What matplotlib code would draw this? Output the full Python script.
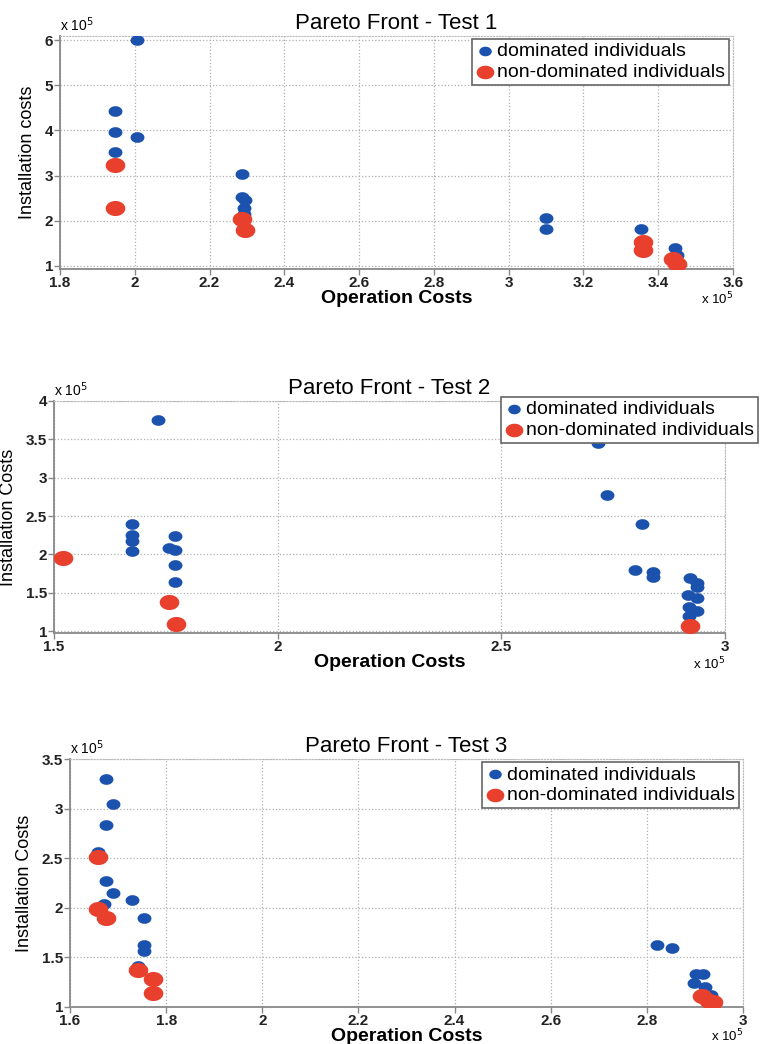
import numpy as np
import matplotlib.pyplot as plt
from matplotlib.path import Path

plt.rcParams['font.family'] = ['Liberation Sans', 'DejaVu Sans']

# values in units of 1e5
t1_dom_x = [2.005, 1.947, 1.947, 1.947, 2.006, 2.288, 2.288, 2.295, 2.293, 2.293,
            3.10, 3.10, 3.355, 3.444, 3.45]
t1_dom_y = [6.00, 4.44, 3.96, 3.52, 3.85, 3.03, 2.52, 2.45, 2.28, 2.15,
            2.07, 1.82, 1.81, 1.39, 1.24]
t1_nd_x = [1.947, 1.947, 2.288, 2.295, 3.358, 3.358, 3.44, 3.449]
t1_nd_y = [3.23, 2.28, 2.04, 1.79, 1.53, 1.35, 1.15, 1.05]

t2_dom_x = [1.732, 1.675, 1.675, 1.675, 1.675, 1.77, 1.757, 1.77, 1.77, 1.77,
            2.717, 2.737, 2.815, 2.799, 2.84, 2.84, 2.922, 2.937, 2.937, 2.918,
            2.937, 2.92, 2.937, 2.92]
t2_dom_y = [3.75, 2.40, 2.25, 2.175, 2.05, 2.235, 2.08, 2.06, 1.865, 1.64,
            3.456, 2.78, 2.39, 1.80, 1.77, 1.71, 1.69, 1.63, 1.57, 1.47,
            1.43, 1.31, 1.255, 1.20]
t2_nd_x = [1.521, 1.756, 1.773, 2.922]
t2_nd_y = [1.95, 1.38, 1.09, 1.07]

t3_dom_x = [1.675, 1.689, 1.675, 1.658, 1.675, 1.689, 1.730, 1.671, 1.754, 1.754,
            1.754, 1.741, 2.822, 2.853, 2.903, 2.917, 2.899, 2.92, 2.934]
t3_dom_y = [3.30, 3.05, 2.83, 2.56, 2.27, 2.145, 2.08, 2.04, 1.90, 1.63,
            1.56, 1.41, 1.63, 1.59, 1.33, 1.33, 1.24, 1.20, 1.12]
t3_nd_x = [1.658, 1.658, 1.675, 1.742, 1.772, 1.772, 2.915, 2.93, 2.937]
t3_nd_y = [2.51, 1.99, 1.90, 1.37, 1.28, 1.14, 1.11, 1.06, 1.05]

titles = ['Pareto Front - Test 1', 'Pareto Front - Test 2', 'Pareto Front - Test 3']
ylabels = ['Installation costs', 'Installation Costs', 'Installation Costs']
xlims = [(1.8, 3.6), (1.5, 3.0), (1.6, 3.0)]
ylims = [(0.93, 6.09), (0.974, 4.0), (1.0, 3.5)]
xticks = [np.arange(1.8, 3.61, 0.2), [1.5, 2, 2.5, 3], np.arange(1.6, 3.01, 0.2)]
yticks = [[1, 2, 3, 4, 5, 6], np.arange(1, 4.01, 0.5), np.arange(1, 3.51, 0.5)]

blue = '#1a52ad'
red = '#e8402c'

# slightly wide ellipse marker
th = np.linspace(0, 2 * np.pi, 40)
ell = Path(np.column_stack([1.3 * np.cos(th), np.sin(th)]), closed=True)

fig = plt.figure(figsize=(7.62, 10.44), dpi=100)
boxes = [[60, 733, 36, 269], [54, 725, 401, 633], [70, 743, 759, 1007]]
legpos = [(729, 39), (758, 397), (739, 762)]
xmult_gap = [22, 23, 21]
data = [(t1_dom_x, t1_dom_y, t1_nd_x, t1_nd_y),
        (t2_dom_x, t2_dom_y, t2_nd_x, t2_nd_y),
        (t3_dom_x, t3_dom_y, t3_nd_x, t3_nd_y)]

W, H = 762.0, 1044.0
for i in range(3):
    l, r, t, b = boxes[i]
    ax = fig.add_axes([l / W, 1 - b / H, (r - l) / W, (b - t) / H])
    dx, dy, nx, ny = data[i]
    ax.scatter(dx, dy, s=100, marker=ell, color=blue, lw=0, label='dominated individuals', zorder=3)
    ax.scatter(nx, ny, s=200, marker=ell, color=red, lw=0, label='non-dominated individuals', zorder=4)
    ax.set_xlim(xlims[i])
    ax.set_ylim(ylims[i])
    ax.set_xticks(xticks[i])
    ax.set_yticks(yticks[i])
    ax.set_xticklabels(['%g' % v for v in xticks[i]])
    ax.set_yticklabels(['%g' % v for v in yticks[i]])
    ax.tick_params(labelsize=11, colors='#222222', length=4, width=1, direction='out', pad=1)
    for lab in ax.get_xticklabels() + ax.get_yticklabels():
        lab.set_fontweight('bold')
    ax.tick_params(color='#888888')
    ax.grid(True, linestyle=':', color='#b0b0b0', linewidth=0.9)
    ax.set_axisbelow(True)
    for s in ['left', 'bottom']:
        ax.spines[s].set_color('#888888')
        ax.spines[s].set_linewidth(1.3)
    for s in ['top', 'right']:
        ax.spines[s].set_color('#bbbbbb')
        ax.spines[s].set_linestyle(':')
    ax.set_title(titles[i], fontsize=16, pad=5)
    ax.set_xlabel('Operation Costs', fontsize=14, fontweight='bold', labelpad=0)
    ax.set_ylabel(ylabels[i], fontsize=13, labelpad=6)
    ax.text(0.0, 1.01, r'x 10$^5$', transform=ax.transAxes, fontsize=10, va='bottom', ha='left')
    ax.text(1.0, -xmult_gap[i] / (b - t), r'x 10$^5$', transform=ax.transAxes, fontsize=9.5,
            va='top', ha='right')
    lx, ly = legpos[i]
    leg = ax.legend(loc='upper right', bbox_to_anchor=(lx / W, 1 - ly / H),
                    bbox_transform=fig.transFigure, fontsize=14, frameon=True, fancybox=False,
                    borderpad=0.2, labelspacing=0.15, handletextpad=0.1, handlelength=1.0,
                    borderaxespad=0, markerscale=0.9)
    leg.get_frame().set_edgecolor('#666666')
    leg.get_frame().set_linewidth(1.2)
    leg.get_frame().set_alpha(1)

fig.savefig('out.png', dpi=100)
